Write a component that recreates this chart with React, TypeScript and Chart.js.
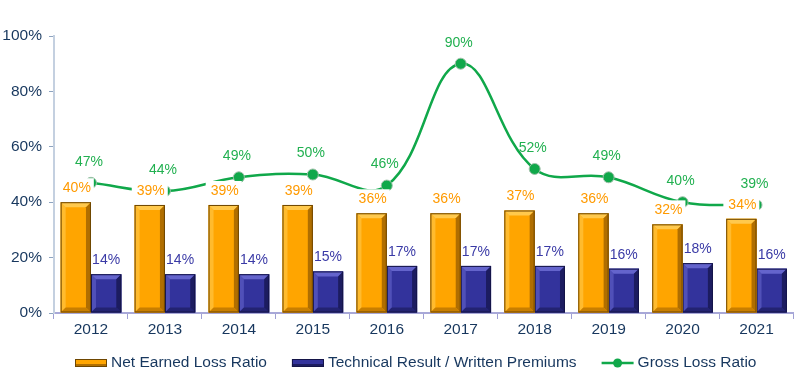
import React, { useEffect, useRef } from "react";
import { Chart, registerables } from "chart.js";

Chart.register(...registerables);

const years = ["2012", "2013", "2014", "2015", "2016", "2017", "2018", "2019", "2020", "2021"];
const netEarnedLossRatio = [40, 39, 39, 39, 36, 36, 37, 36, 32, 34];
const technicalResult = [14, 14, 14, 15, 17, 17, 17, 16, 18, 16];
const grossLossRatio = [47, 44, 49, 50, 46, 90, 52, 49, 40, 39];
const yTicks = [0, 20, 40, 60, 80, 100];

const FONT = "'Liberation Sans', Arial, sans-serif";
const ORANGE = { main: "#FFA500", light: "#FFC94D", dark: "#B06E00", edge: "#6E4600" };
const BLUE = { main: "#33339C", light: "#6464CC", dark: "#1C1C60", edge: "#141448" };
const GREEN = "#10A84A";
const LABEL_GREEN = "#21B050";
const LABEL_ORANGE = "#FF9A00";
const LABEL_BLUE = "#3A3AA6";
const TEXT = "#17375E";

function bevel(ctx: CanvasRenderingContext2D, x0: number, y0: number, x1: number, y1: number, c: any) {
  const b = 5;
  ctx.save();
  ctx.fillStyle = c.main;
  ctx.fillRect(x0, y0, x1 - x0, y1 - y0);
  ctx.fillStyle = c.light;
  ctx.beginPath();
  ctx.moveTo(x0, y0); ctx.lineTo(x1, y0); ctx.lineTo(x1 - b, y0 + b); ctx.lineTo(x0 + b, y0 + b); ctx.closePath(); ctx.fill();
  ctx.globalAlpha = 0.6;
  ctx.beginPath();
  ctx.moveTo(x0, y0); ctx.lineTo(x0 + b, y0 + b); ctx.lineTo(x0 + b, y1 - b); ctx.lineTo(x0, y1); ctx.closePath(); ctx.fill();
  ctx.globalAlpha = 1;
  ctx.fillStyle = c.dark;
  ctx.beginPath();
  ctx.moveTo(x1, y0); ctx.lineTo(x1 - b, y0 + b); ctx.lineTo(x1 - b, y1 - b); ctx.lineTo(x1, y1); ctx.closePath(); ctx.fill();
  ctx.globalAlpha = 0.7;
  ctx.beginPath();
  ctx.moveTo(x0, y1); ctx.lineTo(x0 + b, y1 - b); ctx.lineTo(x1 - b, y1 - b); ctx.lineTo(x1, y1); ctx.closePath(); ctx.fill();
  ctx.globalAlpha = 1;
  ctx.strokeStyle = c.edge;
  ctx.lineWidth = 1;
  ctx.strokeRect(x0 + 0.5, y0 + 0.5, x1 - x0 - 1, y1 - y0 - 1);
  ctx.restore();
}

const bevelPlugin = {
  id: "bevelBars",
  afterDatasetDraw(chart: any, args: any) {
    const idx = args.index;
    if (idx > 1) return;
    const ctx = chart.ctx;
    const meta = chart.getDatasetMeta(idx);
    meta.data.forEach((el: any) => {
      const x0 = el.x - el.width / 2;
      const x1 = el.x + el.width / 2;
      bevel(ctx, x0, el.y, x1, el.base, idx === 0 ? ORANGE : BLUE);
    });
  },
};

const labelsPlugin = {
  id: "valueLabels",
  afterDatasetsDraw(chart: any) {
    const ctx = chart.ctx;
    ctx.save();
    ctx.font = `14px ${FONT}`;
    ctx.textAlign = "center";
    ctx.textBaseline = "middle";
    const lm = chart.getDatasetMeta(2);
    ctx.fillStyle = LABEL_GREEN;
    lm.data.forEach((el: any, i: number) => {
      ctx.fillText(`${grossLossRatio[i]}%`, el.x - 2, el.y - 21);
    });
    const om = chart.getDatasetMeta(0);
    om.data.forEach((el: any, i: number) => {
      const t = `${netEarnedLossRatio[i]}%`;
      const w = ctx.measureText(t).width;
      const cy = el.y - 14;
      ctx.fillStyle = "#FFFFFF";
      ctx.fillRect(el.x - w / 2 - 4, cy - 10, w + 8, 20);
      ctx.fillStyle = LABEL_ORANGE;
      ctx.fillText(t, el.x + 1, cy);
    });
    const bm = chart.getDatasetMeta(1);
    ctx.fillStyle = LABEL_BLUE;
    bm.data.forEach((el: any, i: number) => {
      ctx.fillText(`${technicalResult[i]}%`, el.x, el.y - 14);
    });
    ctx.restore();
  },
};

const legendPlugin = {
  id: "customLegend",
  afterDraw(chart: any) {
    const ctx = chart.ctx;
    ctx.save();
    ctx.font = `15.5px ${FONT}`;
    ctx.textBaseline = "middle";
    const y = 363;
    const items = [
      { text: "Net Earned Loss Ratio", kind: "bar", c: ORANGE },
      { text: "Technical Result / Written Premiums", kind: "bar", c: BLUE },
      { text: "Gross Loss Ratio", kind: "line", c: null },
    ];
    const sym = 32;
    const gapAfterSym = 4;
    const gapItems = 25;
    let x = 75;
    items.forEach((it) => {
      if (it.kind === "bar") {
        const c: any = it.c;
        ctx.fillStyle = c.main;
        ctx.fillRect(x, y - 4, sym, 8);
        ctx.fillStyle = c.dark;
        ctx.fillRect(x, y + 1, sym, 3);
        ctx.strokeStyle = c.edge;
        ctx.lineWidth = 1;
        ctx.strokeRect(x + 0.5, y - 3.5, sym - 1, 7);
      } else {
        ctx.strokeStyle = GREEN;
        ctx.lineWidth = 2.5;
        ctx.beginPath();
        ctx.moveTo(x, y);
        ctx.lineTo(x + sym, y);
        ctx.stroke();
        ctx.fillStyle = GREEN;
        ctx.beginPath();
        ctx.arc(x + sym / 2, y, 4.5, 0, Math.PI * 2);
        ctx.fill();
      }
      x += sym + gapAfterSym;
      ctx.fillStyle = TEXT;
      ctx.textAlign = "left";
      ctx.fillText(it.text, x, y);
      x += ctx.measureText(it.text).width + gapItems;
    });
    ctx.restore();
  },
};

export default function App() {
  const ref = useRef<HTMLCanvasElement | null>(null);
  useEffect(() => {
    document.body.style.margin = "0";
    const canvas = ref.current;
    if (!canvas) return;
    const chart = new Chart(canvas, {
      type: "bar",
      data: {
        labels: years,
        datasets: [
          {
            type: "bar",
            label: "Net Earned Loss Ratio",
            data: netEarnedLossRatio,
            backgroundColor: ORANGE.main,
            categoryPercentage: 0.82,
            barPercentage: 1,
            order: 2,
          },
          {
            type: "bar",
            label: "Technical Result / Written Premiums",
            data: technicalResult,
            backgroundColor: BLUE.main,
            categoryPercentage: 0.82,
            barPercentage: 1,
            order: 3,
          },
          {
            type: "line",
            label: "Gross Loss Ratio",
            data: grossLossRatio,
            borderColor: GREEN,
            backgroundColor: GREEN,
            borderWidth: 2.5,
            pointRadius: 5.5,
            pointBackgroundColor: GREEN,
            pointBorderColor: "#9DBFA8",
            pointBorderWidth: 1,
            tension: 0.4,
            order: 1,
          } as any,
        ],
      },
      options: {
        animation: false,
        responsive: false,
        maintainAspectRatio: false,
        layout: { padding: { top: 36, bottom: 45, right: 5, left: 0 } },
        plugins: { legend: { display: false }, tooltip: { enabled: false } },
        scales: {
          x: {
            afterFit: (s: any) => { s.height = 30; },
            grid: { display: true, drawOnChartArea: false, drawTicks: true, tickLength: 6, color: "#A0A0D4", offset: true },
            border: { display: true, color: "#A8A8D8", width: 2 },
            ticks: { font: { family: FONT, size: 15.5 }, color: TEXT, padding: 1 },
          },
          y: {
            min: 0,
            max: 100,
            afterFit: (s: any) => { s.width = 54; },
            afterBuildTicks: (s: any) => { s.ticks = yTicks.map((v) => ({ value: v })); },
            grid: { display: true, drawOnChartArea: false, drawTicks: true, tickLength: 5, color: "#8EA4C0" },
            border: { display: true, color: "#C4D0E0", width: 2 },
            ticks: {
              font: { family: FONT, size: 15.5 },
              color: TEXT,
              padding: 7,
              callback: (v: any) => `${v}%`,
            },
          },
        },
      },
      plugins: [bevelPlugin, labelsPlugin, legendPlugin],
    });
    return () => chart.destroy();
  }, []);
  return (
    <div style={{ width: 800, height: 388 }}>
      <canvas ref={ref} width={800} height={388} style={{ width: 800, height: 388, display: "block" }} />
    </div>
  );
}
